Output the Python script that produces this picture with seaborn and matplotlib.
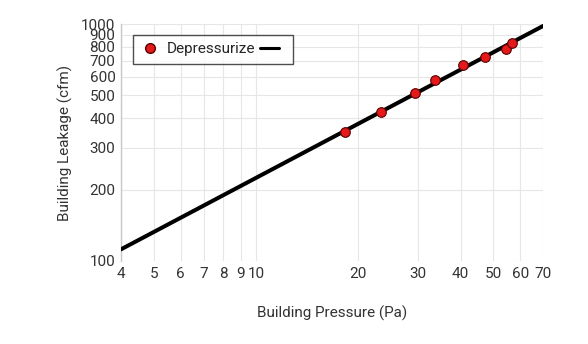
import matplotlib
matplotlib.use("Agg")
import matplotlib.pyplot as plt
import seaborn as sns
import pandas as pd
from matplotlib.lines import Line2D
from matplotlib.ticker import FixedLocator, NullLocator, FixedFormatter

pressure = [18.3, 23.3, 29.3, 33.7, 40.8, 47.1, 54.4, 56.7]
leakage = [349, 427, 510, 582, 671, 728, 787, 831]
fit_pressure = [4, 70]
fit_leakage = [112, 981]
x_ticks = [4, 5, 6, 7, 8, 9, 10, 20, 30, 40, 50, 60, 70]
x_labels = ["4", "5", "6", "7", "8", "9", "10", "20", "30", "40", "50", "60", "70"]
y_ticks = [100, 200, 300, 400, 500, 600, 700, 800, 900, 1000]
y_labels = ["100", "200", "300", "400", "500", "600", "700", "800", "900", "1000"]

sns.set_theme(style="white")
plt.rcParams['font.family'] = ['Roboto', 'DejaVu Sans']

pts = pd.DataFrame({"p": pressure, "q": leakage})
fit = pd.DataFrame({"p": fit_pressure, "q": fit_leakage})

fig = plt.figure(figsize=(5.88, 3.44), dpi=100)
ax = fig.add_axes([0.2058, 0.2413, 0.7177, 0.6889])
ax.set_xscale("log")
ax.set_yscale("log")

sns.lineplot(data=fit, x="p", y="q", ax=ax, color="black", linewidth=2.9, zorder=3)
sns.scatterplot(data=pts, x="p", y="q", ax=ax, color="#e3191c", edgecolor="#5a0000",
                linewidth=0.8, s=48, zorder=4)

ax.set_xlim(4, 70)
ax.set_ylim(100, 1000)
ax.xaxis.set_major_locator(FixedLocator(x_ticks))
ax.xaxis.set_major_formatter(FixedFormatter(x_labels))
ax.xaxis.set_minor_locator(NullLocator())
ax.yaxis.set_major_locator(FixedLocator(y_ticks))
ax.yaxis.set_major_formatter(FixedFormatter(y_labels))
ax.yaxis.set_minor_locator(NullLocator())

ax.grid(True, color="#e6e6e6", linewidth=0.8)
for s in ["top", "right", "bottom"]:
    ax.spines[s].set_visible(False)
ax.spines["left"].set_color("#c8c8c8")
ax.spines["left"].set_linewidth(1.0)
ax.tick_params(axis="both", length=0, labelsize=11, labelcolor="#333333", pad=4)

ax.set_xlabel("Building Pressure (Pa)", fontsize=11, color="#333333", labelpad=18)
ax.set_ylabel("Building Leakage (cfm)", fontsize=11, color="#333333", labelpad=6)

h1 = Line2D([], [], marker="o", linestyle="none", markerfacecolor="#e3191c",
            markeredgecolor="#5a0000", markersize=7)
h2 = Line2D([], [], color="black", linewidth=2.2)
leg = ax.legend([h1, h2], ["Depressurize", ""], ncol=2, loc="upper left",
                bbox_to_anchor=(0.028, 0.955), borderaxespad=0, frameon=True,
                fancybox=False, fontsize=11, handlelength=1.3, columnspacing=0.3,
                handletextpad=0.4, borderpad=0.5)
leg.get_frame().set_edgecolor("#222222")
leg.get_frame().set_linewidth(1.0)

fig.savefig("out.png", dpi=100, facecolor="white")
